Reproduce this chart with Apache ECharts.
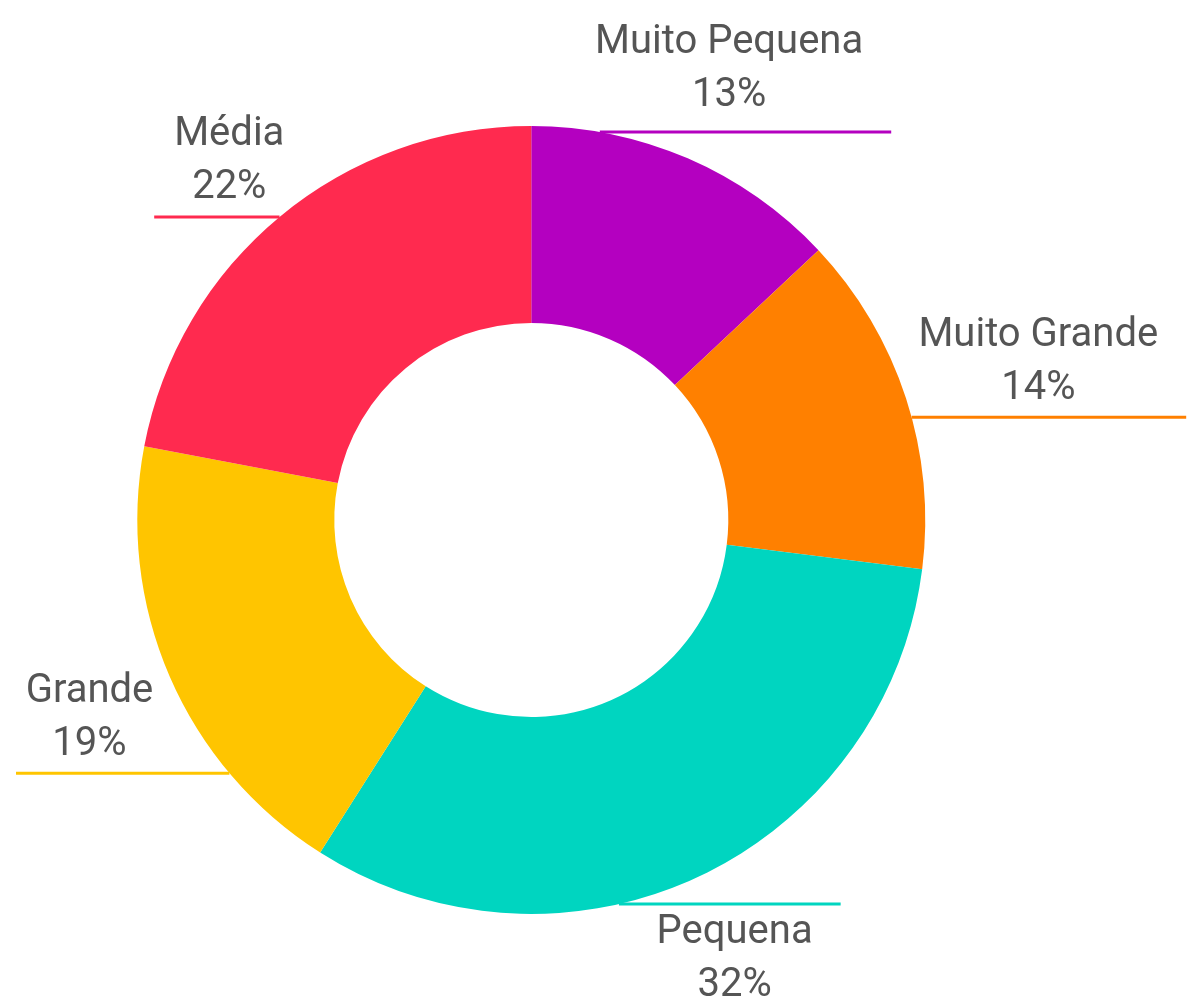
<!DOCTYPE html>
<html>
<head>
<meta charset="utf-8">
<title>Tamanho</title>
<script src="https://cdn.jsdelivr.net/npm/echarts@6/dist/echarts.min.js"></script>
<style>
  html, body { margin: 0; padding: 0; background: #fff; }
  #chart { width: 1202px; height: 998px; }
</style>
</head>
<body>
<div id="chart"></div>
<script>
// dados do gráfico
var categories = ['Muito Pequena', 'Muito Grande', 'Pequena', 'Grande', 'Média'];
var values = [13, 14, 32, 19, 22];
var colors = ['#b400c0', '#ff8000', '#00d5c0', '#ffc500', '#ff2a4f'];

var chart = echarts.init(document.getElementById('chart'));

// geometria da rosca
var centerPct = [0.442, 0.521];
var innerR = 197;
var outerR = 394;

// ângulo médio de cada fatia (a partir do topo, sentido horário)
var total = values.reduce(function (a, b) { return a + b; }, 0);
var midAngles = [];
var acc = 0;
values.forEach(function (v) {
  midAngles.push((acc + v / 2) / total * Math.PI * 2);
  acc += v;
});

var pieData = categories.map(function (name, i) {
  return { name: name, value: values[i], itemStyle: { color: colors[i] } };
});

// posiciona rótulos radialmente e traça a linha horizontal a partir da borda
var placeLabel = function (params) {
  var W = chart.getWidth(), H = chart.getHeight();
  var cx = W * centerPct[0], cy = H * centerPct[1];
  var a = midAngles[params.dataIndex];
  var dx = Math.sin(a), dy = -Math.cos(a);
  var rect = params.labelRect;
  var hw = rect.width / 2, hh = rect.height * 0.4;
  var dist = outerR + 12 + hw * Math.abs(dx) + hh * Math.abs(dy);
  var tx = cx + dx * dist;
  var ty = cy + dy * dist;

  // linha abaixo do texto, ou acima quando o rótulo está embaixo
  var yl = dy > 0.7 ? ty - 48 : ty + 62;
  yl = Math.max(cy - outerR + 6, Math.min(cy + outerR - 6, yl));
  var side = dx >= 0 ? 1 : -1;
  var half = Math.sqrt(Math.max(0, outerR * outerR - (yl - cy) * (yl - cy)));
  var xs = cx + side * half;
  var xe = side > 0 ? tx + hw + 28 : tx - hw - 20;
  xe = Math.max(16, Math.min(W, xe));

  return {
    x: tx,
    y: ty + 7,
    align: 'center',
    verticalAlign: 'middle',
    labelLinePoints: [[xs, yl], [xs, yl], [xe, yl]]
  };
};

chart.setOption({
  animation: false,
  series: [{
    type: 'pie',
    center: [(centerPct[0] * 100) + '%', (centerPct[1] * 100) + '%'],
    radius: [innerR, outerR],
    startAngle: 90,
    clockwise: true,
    percentPrecision: 0,
    data: pieData,
    label: {
      show: true,
      position: 'outside',
      formatter: '{b}\n{d}%',
      fontFamily: 'Roboto',
      fontSize: 40,
      lineHeight: 53,
      color: '#555555',
      align: 'center'
    },
    labelLine: {
      show: true,
      length: 10,
      length2: 10,
      lineStyle: { width: 3 }
    },
    labelLayout: placeLabel,
    emphasis: { disabled: true }
  }]
});
</script>
</body>
</html>
